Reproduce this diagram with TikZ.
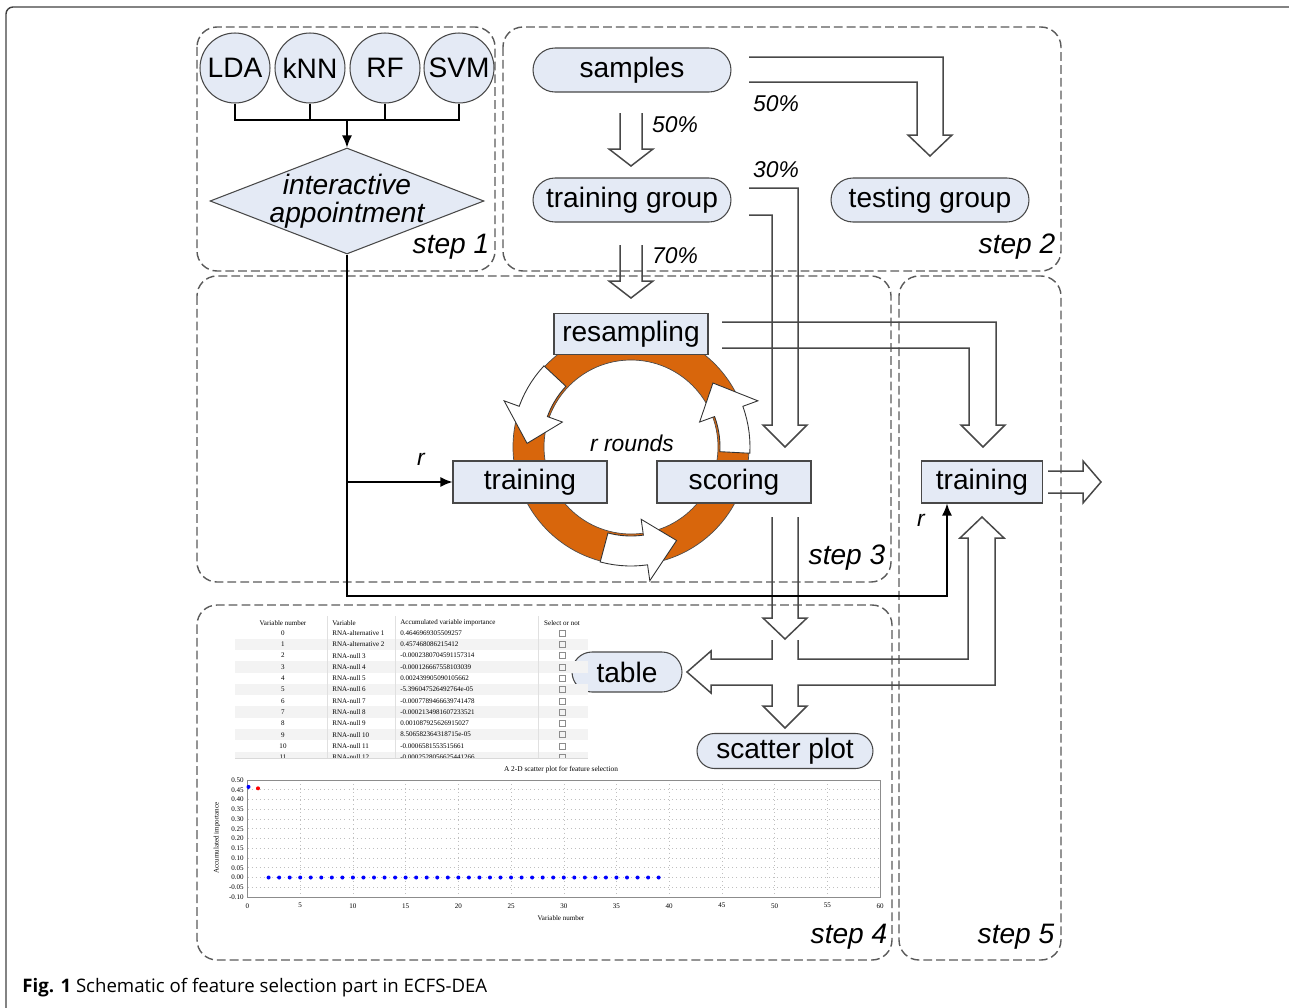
\documentclass[tikz,border=0pt]{standalone}
\usepackage{fontspec}
\setmainfont{Liberation Sans}
\newfontfamily\serfont{Liberation Serif}
\newfontfamily\capfont{Open Sans}
\usetikzlibrary{arrows.meta,shapes.geometric,shapes.misc}

\definecolor{boxblue}{RGB}{228,234,245}
\definecolor{edgegray}{RGB}{72,72,72}
\definecolor{dashgray}{RGB}{90,90,90}
\definecolor{ringorange}{RGB}{216,102,12}
\definecolor{rowgray}{RGB}{243,243,243}

\begin{document}
\begin{tikzpicture}[x=0.02cm, y=-0.02cm,
	big/.style={font=\fontsize{16}{19}\selectfont},
	lab/.style={font=\fontsize{13}{15}\selectfont\itshape, inner sep=0pt},
	steptag/.style={font=\fontsize{16}{16}\selectfont\itshape, inner sep=0pt},
	model/.style={big, circle, draw=edgegray, fill=boxblue, line width=0.6pt, minimum size=1.4cm, inner sep=0pt},
	decision/.style={diamond, draw=edgegray, fill=boxblue, line width=0.6pt, minimum width=5.48cm, minimum height=2.12cm, inner sep=0pt},
	pill/.style={big, rounded rectangle, draw=edgegray, fill=boxblue, line width=0.6pt, minimum width=3.96cm, minimum height=0.88cm, inner sep=0pt},
	proc/.style={big, rectangle, draw=edgegray, fill=boxblue, line width=0.6pt, minimum width=3.08cm, minimum height=0.84cm, inner sep=0pt},
	stepbox/.style={draw=dashgray, line width=0.8pt, dash pattern=on 5pt off 2.3pt, rounded corners=0.4cm},
	framed/.style={draw=black!75, line width=0.8pt, rounded corners=4pt},
	hollow/.style={draw=edgegray, line width=0.85pt},
	flow/.style={draw=black, line width=0.9pt, -{Latex[length=0.24cm, width=0.2cm]}},
	ringarrow/.style={draw=black!80, fill=white, line width=0.5pt},
	tabtxt/.style={font=\serfont\fontsize{4}{5}\selectfont, inner sep=0pt},
	grid/.style={draw=black!25, line width=0.3pt, dotted}
]
	\useasboundingbox (0,0) rectangle (1289,1008);

	% Frame
	\draw[framed] (6,1012) -- (6,7) -- (1289,7);

	% Steps
	\draw[stepbox] (197,27) rectangle (495,271);
	\draw[stepbox] (503,27) rectangle (1061,271);
	\draw[stepbox] (197,276) rectangle (891,582);
	\draw[stepbox] (899,276) rectangle (1061,960);
	\draw[stepbox] (197,605) rectangle (892,960);

	% Ring
	\filldraw[fill=ringorange, draw=black!70, line width=0.4pt, even odd rule]
	(631,447) circle[radius=118] (631,447) circle[radius=87];

	\foreach \ta/\tb in {223/182, 105/64, 3/-38}
	{
	\pgfmathsetmacro{\th}{\tb+18}
	\filldraw[ringarrow] plot[domain=\ta:\th, samples=8] ({631+89*cos(\x)},{447+89*sin(\x)})
		-- ({631+73*cos(\th)},{447+73*sin(\th)})
		-- ({631+104*cos(\tb)},{447+104*sin(\tb)})
		-- ({631+135*cos(\th)},{447+135*sin(\th)})
		-- plot[domain=\th:\ta, samples=8] ({631+119*cos(\x)},{447+119*sin(\x)}) -- cycle;
	}

	% Hollow arrows
	\draw[hollow] (620,113) -- (620,149) -- (609,149) -- (631,166) -- (653,149) -- (642,149) -- (642,113);
	\draw[hollow] (620,245) -- (620,281) -- (609,281) -- (631,298) -- (653,281) -- (642,281) -- (642,245);
	\draw[hollow] (749,57) -- (943,57) -- (943,135) -- (952,135) -- (930,156) -- (908,135) -- (917,135) -- (917,82) -- (749,82);
	\draw[hollow] (749,188) -- (798,188) -- (798,425) -- (807,425) -- (785,447) -- (763,425) -- (772,425) -- (772,215) -- (749,215);
	\draw[hollow] (722,322) -- (996,322) -- (996,425) -- (1005,425) -- (983,447) -- (961,425) -- (969,425) -- (969,348) -- (722,348);
	\draw[hollow] (772,517) -- (772,618) -- (763,618) -- (785,639) -- (807,618) -- (798,618) -- (798,517);
	\draw[hollow] (1048,471) -- (1083,471) -- (1083,461) -- (1101,482) -- (1083,503) -- (1083,493) -- (1048,493);
	\draw[hollow] (772,640) -- (772,659) -- (711,659) -- (711,651) -- (687,672) -- (711,693) -- (711,685)
		-- (772,685) -- (772,706) -- (763,706) -- (785,728) -- (807,706) -- (798,706) -- (798,685)
		-- (995,685) -- (995,538) -- (1004,538) -- (982,517) -- (960,538) -- (968,538) -- (968,659)
		-- (798,659) -- (798,640);

	% Step 1
	\node[model] (lda) at (235,68) {LDA};
	\node[model] (knn) at (310,68) {kNN};
	\node[model] (rf) at (385,68) {RF};
	\node[model] (svm) at (459,68) {SVM};
	\node[decision] (appt) at (347,201) {};
	\node[steptag, align=center] (apptxt) at (347,201) {interactive\\appointment};

	\coordinate (bar) at (347,120);
	\draw[line width=0.9pt] (lda.south) |- (bar) -| (svm.south);
	\foreach \m in {knn,rf}
	\draw[line width=0.9pt] (\m.south) -- (\m.south |- bar);
	\draw[flow] (bar) -- (appt.north);

	% Step 2
	\node[pill] (samples) at (632,70) {samples};
	\node[pill] (traingrp) at (632,200) {training group};
	\node[pill] (testgrp) at (930,200) {testing group};

	% Step 3
	\node[proc, minimum height=0.82cm] (resamp) at (631,334) {resampling};
	\node[proc] (train) at (530,482) {training};
	\node[proc] (score) at (734,482) {scoring};

	% Step 5
	\node[proc, minimum width=2.42cm] (train5) at (982,482) {training};

	% Step 4
	\node[pill, minimum width=2.2cm, minimum height=0.8cm] (table) at (627,672) {table};
	\node[pill, minimum width=3.52cm, minimum height=0.7cm] (scatter) at (785,751) {scatter plot};

	% r flows
	\coordinate (corner) at (947,596);
	\draw[flow] (appt.south) |- (corner) -- (corner |- train5.south);
	\draw[flow] (appt.south |- train) -- (train.west);

	% Labels
	\node[lab] (p50a) at (675,125) {50\%};
	\node[lab] (p50b) at (776,104) {50\%};
	\node[lab] (p30) at (776,170) {30\%};
	\node[lab] (p70) at (675,256) {70\%};
	\node[lab] (rounds) at (632,443) {r rounds};
	\node[lab] (rleft) at (421,459) {r};
	\node[lab] (rright) at (921,520) {r};

	\node[steptag] (tag1) at (451,247) {step 1};
	\node[steptag] (tag2) at (1017,247) {step 2};
	\node[steptag] (tag3) at (847,558) {step 3};
	\node[steptag] (tag4) at (849,937) {step 4};
	\node[steptag] (tag5) at (1016,937) {step 5};

	% Table
	\begin{scope}
	\clip (233,614) rectangle (590,758);
	\foreach \i in {1,3,...,11}
	\fill[rowgray] (235,627.35+11.3*\i) rectangle (588,638.65+11.3*\i);
	\foreach \cx in {327,395,538}
	\draw[black!12, line width=0.3pt] (\cx,616) -- (\cx,758);
	\node[tabtxt] (hnum) at (283,623) {Variable number};
	\node[tabtxt, anchor=west] (hvar) at (332,623) {Variable};
	\node[tabtxt, anchor=west] (himp) at (400,623) {Accumulated variable importance};
	\node[tabtxt] (hsel) at (562,623) {Select or not};
	\foreach \i/\nm/\val in {0/RNA-alternative 1/0.4646969305509257, 1/RNA-alternative 2/0.457468086215412,
		2/RNA-null 3/-0.0002380704591157314, 3/RNA-null 4/-0.000126667558103039,
		4/RNA-null 5/0.002439905090105662, 5/RNA-null 6/-5.396047526492764e-05,
		6/RNA-null 7/-0.0007789466639741478, 7/RNA-null 8/-0.0002134981607233521,
		8/RNA-null 9/0.001087925626915027, 9/RNA-null 10/8.506582364318715e-05,
		10/RNA-null 11/-0.0006581553515661, 11/RNA-null 12/-0.0002528056625441266}
	{
	\pgfmathsetmacro{\ry}{633+11.3*\i}
	\node[tabtxt] (num\i) at (283,\ry) {\i};
	\node[tabtxt, anchor=west] (var\i) at (332,\ry) {\nm};
	\node[tabtxt, anchor=west] (imp\i) at (400,\ry) {\val};
	\node[draw=black!45, line width=0.3pt, minimum size=0.12cm, inner sep=0pt] (chk\i) at (562,\ry) {};
	}
	\end{scope}
	\draw[black!15, line width=0.4pt] (235,758) -- (588,758);

	% Scatter plot
	\node[tabtxt, font=\serfont\fontsize{4.2}{5}\selectfont] (ptitle) at (561,770) {A 2-D scatter plot for feature selection};
	\foreach \k in {5,10,...,55}
	\draw[grid] (247.5+10.542*\k,780) -- (247.5+10.542*\k,897);
	\foreach \v in {1,...,11}
	\draw[grid] (247.5,780+9.75*\v) -- (880,780+9.75*\v);
	\draw[black!45, line width=0.4pt] (247.5,780) rectangle (880,897);
	\foreach \v/\t in {0/0.50, 1/0.45, 2/0.40, 3/0.35, 4/0.30, 5/0.25, 6/0.20, 7/0.15, 8/0.10, 9/0.05, 10/0.00, 11/-0.05, 12/-0.10}
	\node[tabtxt, anchor=east] (yt\v) at (244,780+9.75*\v) {\t};
	\foreach \k in {0,5,...,60}
	\node[tabtxt, anchor=north] (xt\k) at (247.5+10.542*\k,903) {\k};
	\node[tabtxt] (xlab) at (561,918) {Variable number};
	\node[tabtxt, rotate=90] (ylab) at (217,838) {Accumulated importance};
	\fill[blue] (248.5,786.9) circle[radius=2];
	\fill[red] (258,788.3) circle[radius=2];
	\foreach \k in {2,...,39}
	\fill[blue] (247.5+10.542*\k,877.5) circle[radius=2];

	% Caption
	\node[anchor=base west, inner sep=0pt, font=\capfont\fontsize{10.6}{12}\selectfont] (caption) at (22,992)
	{\textbf{Fig. 1} Schematic of feature selection part in ECFS-DEA};
\end{tikzpicture}
\end{document}
